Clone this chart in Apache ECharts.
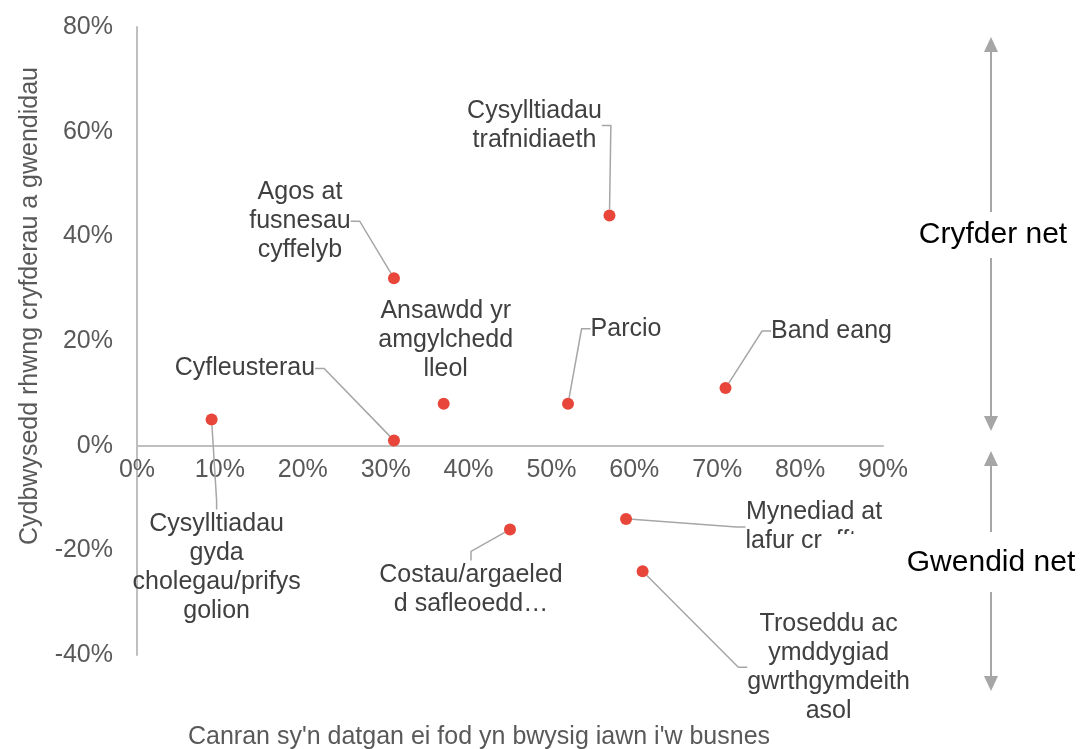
<!DOCTYPE html>
<html>
<head>
<meta charset="utf-8">
<script src="https://cdn.jsdelivr.net/npm/echarts@6/dist/echarts.min.js"></script>
<style>
  html, body { margin: 0; padding: 0; background: #fff; }
  #chart { width: 1082px; height: 749px; }
</style>
</head>
<body>
<div id="chart"></div>
<script>
// categories (labels shown beside each point)
const names = [
  'Cysylltiadau\ngyda\ncholegau/prifys\ngolion',
  'Cyfleusterau',
  'Agos at\nfusnesau\ncyffelyb',
  'Ansawdd yr\namgylchedd\nlleol',
  'Parcio',
  'Cysylltiadau\ntrafnidiaeth',
  'Band eang',
  'Costau/argaeled\nd safleoedd…',
  'Mynediad at\nlafur crefftus',
  'Troseddu ac\nymddygiad\ngwrthgymdeith\nasol'
];
// % saying very important to the business
const importance = [0.09, 0.31, 0.31, 0.37, 0.52, 0.57, 0.71, 0.45, 0.59, 0.61];
// net balance strengths vs weaknesses
const balance = [0.05, 0.01, 0.32, 0.08, 0.08, 0.44, 0.11, -0.16, -0.14, -0.24];

// where each label sits relative to its point (px)
const labelOffsets = [
  [5, 148], [-149, -72], [-94, -57], [2, -64], [58, -75],
  [-75, -90], [106, -57], [-39, 60], [188, 8], [186, 96]
];

const grey = '#a6a6a6';
const font = '"Liberation Sans", Arial, sans-serif';

const gridTop = 27;
const gridBottom = 94;
const yMin = -0.4;
const yMax = 0.8;
// lift the x axis (line, labels, name) up to the zero line
const plotHeight = 749 - gridTop - gridBottom;
const xAxisOffset = -plotHeight * (0 - yMin) / (yMax - yMin);

let chart = echarts.init(document.getElementById('chart'));

let points = importance.map((x, i) => {
  let item = { value: [x, balance[i]], name: names[i] };
  if (i === 3) item.labelLine = { show: false };
  return item;
});

function pct(v) {
  return Math.round(v * 100) + '%';
}

chart.setOption({
  animation: false,
  grid: { left: 137, right: 199, top: gridTop, bottom: gridBottom, outerBoundsMode: 'none', containLabel: false },
  textStyle: { fontFamily: font },
  xAxis: {
    type: 'value',
    min: 0, max: 0.9, interval: 0.1,
    offset: xAxisOffset,
    name: "Canran sy'n datgan ei fod yn bwysig iawn i'w busnes",
    nameLocation: 'middle',
    nameGap: 279,
    nameTextStyle: { color: '#595959', fontSize: 25, fontFamily: font, padding: [0, 62, 0, 0] },
    axisLine: { onZero: false, lineStyle: { color: '#bfbfbf', width: 2 } },
    axisTick: { show: false },
    splitLine: { show: false },
    axisLabel: { formatter: pct, color: '#595959', fontSize: 25, fontFamily: font, margin: 12 }
  },
  yAxis: {
    type: 'value',
    min: yMin, max: yMax, interval: 0.2,
    name: 'Cydbwysedd rhwng cryfderau a gwendidau',
    nameLocation: 'middle',
    nameGap: 94,
    nameTextStyle: { color: '#595959', fontSize: 25, fontFamily: font, padding: [0, 0, 0, 70] },
    axisLine: { show: true, onZero: false, lineStyle: { color: '#bfbfbf', width: 2 } },
    axisTick: { show: false },
    splitLine: { show: false },
    axisLabel: { formatter: pct, color: '#595959', fontSize: 25, fontFamily: font, margin: 24 }
  },
  series: [{
    type: 'scatter',
    symbolSize: 12,
    itemStyle: { color: '#e8463a', opacity: 1 },
    data: points,
    label: {
      show: true,
      formatter: p => p.name,
      color: '#404040',
      fontSize: 25,
      lineHeight: 29,
      fontFamily: font,
      align: 'center'
    },
    labelLine: {
      show: true,
      length2: 9,
      lineStyle: { color: grey, width: 1.5 }
    },
    labelLayout: function (params) {
      let off = labelOffsets[params.dataIndex];
      let cx = params.rect.x + params.rect.width / 2;
      let cy = params.rect.y + params.rect.height / 2;
      return {
        x: cx + off[0],
        y: cy + off[1],
        align: 'center',
        verticalAlign: 'middle'
      };
    }
  }],
  graphic: [
    // clip on the end of the "lafur crefftus" label, as in the source
    { type: 'rect', z: 100, shape: { x: 823, y: 534, width: 70, height: 28 }, style: { fill: '#fff' } },
    // Cryfder net
    { type: 'line', shape: { x1: 991, y1: 50, x2: 991, y2: 212 }, style: { stroke: grey, lineWidth: 2 } },
    { type: 'polygon', shape: { points: [[991, 37], [984, 52], [998, 52]] }, style: { fill: grey } },
    { type: 'line', shape: { x1: 991, y1: 258, x2: 991, y2: 418 }, style: { stroke: grey, lineWidth: 2 } },
    { type: 'polygon', shape: { points: [[991, 431], [984, 416], [998, 416]] }, style: { fill: grey } },
    { type: 'text', x: 993, y: 235, style: { text: 'Cryfder net', fill: '#000', font: '30px ' + font, textAlign: 'center', textVerticalAlign: 'middle' } },
    // Gwendid net
    { type: 'line', shape: { x1: 991, y1: 465, x2: 991, y2: 532 }, style: { stroke: grey, lineWidth: 2 } },
    { type: 'polygon', shape: { points: [[991, 451], [984, 466], [998, 466]] }, style: { fill: grey } },
    { type: 'line', shape: { x1: 991, y1: 592, x2: 991, y2: 678 }, style: { stroke: grey, lineWidth: 2 } },
    { type: 'polygon', shape: { points: [[991, 691], [984, 676], [998, 676]] }, style: { fill: grey } },
    { type: 'text', x: 991, y: 563, style: { text: 'Gwendid net', fill: '#000', font: '30px ' + font, textAlign: 'center', textVerticalAlign: 'middle' } }
  ]
});
</script>
</body>
</html>
